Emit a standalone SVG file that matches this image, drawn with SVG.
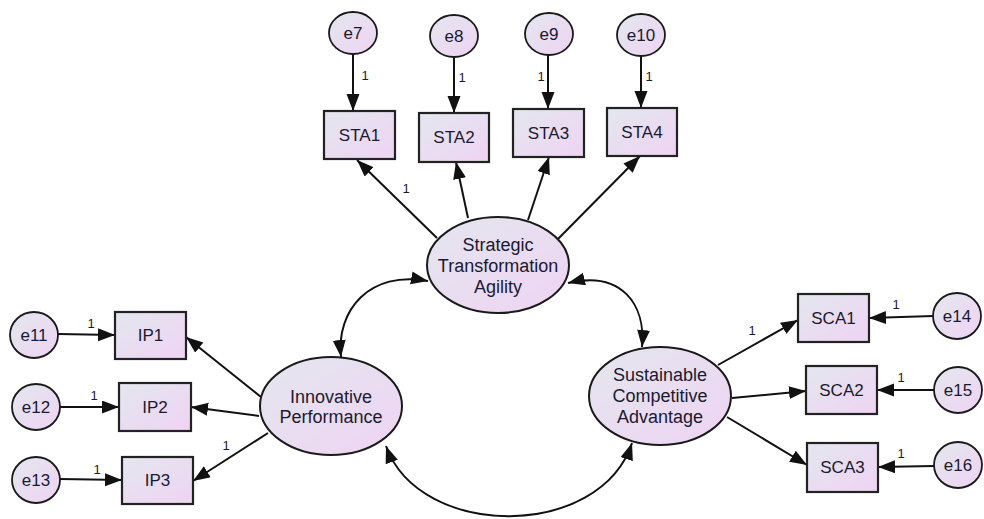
<svg xmlns="http://www.w3.org/2000/svg" width="984" height="519" viewBox="0 0 984 519">
  <defs>
    <linearGradient id="fillGrad" x1="0" y1="0" x2="1" y2="1">
      <stop offset="0" stop-color="#e3e7ee"/>
      <stop offset="1" stop-color="#efd3f3"/>
    </linearGradient>
    <marker id="arrow" markerUnits="userSpaceOnUse" markerWidth="18" markerHeight="14" refX="17" refY="6.5" orient="auto-start-reverse">
      <path d="M0,0 L17,6.5 L0,13 z" fill="#111"/>
    </marker>
  </defs>
  <style>
    .box { fill: url(#fillGrad); stroke: #222; stroke-width: 2.2; }
    .lat { fill: url(#fillGrad); stroke: #1a1a1a; stroke-width: 2; }
    .err { fill: url(#fillGrad); stroke: #1a1a1a; stroke-width: 1.8; }
    .t { font-family: "Liberation Sans", Arial, sans-serif; font-size: 17px; fill: #1a1a32; text-anchor: middle; dominant-baseline: central; }
    .tl { font-family: "Liberation Sans", Arial, sans-serif; font-size: 18px; fill: #1a1a32; text-anchor: middle; dominant-baseline: central; }
    .one { font-family: "Liberation Sans", Arial, sans-serif; font-size: 13px; fill: #1a1a32; text-anchor: middle; dominant-baseline: central; }
    .c { fill: none; stroke: #111; stroke-width: 2; }
    .ar { marker-end: url(#arrow); }
    .dbl { marker-start: url(#arrow); marker-end: url(#arrow); }
  </style>

  <!-- connectors -->
  <g id="connectors">
    <!-- error terms to STA indicators -->
    <line class="c ar" x1="353" y1="54" x2="353" y2="111"/>
    <line class="c ar" x1="454" y1="57" x2="454" y2="113"/>
    <line class="c ar" x1="548" y1="55" x2="548" y2="109"/>
    <line class="c ar" x1="641" y1="56" x2="641" y2="108"/>
    <!-- STA loadings -->
    <line class="c ar" x1="437" y1="238" x2="357" y2="160"/>
    <line class="c ar" x1="468" y1="218" x2="456" y2="162"/>
    <line class="c ar" x1="528" y1="220" x2="549" y2="157"/>
    <line class="c ar" x1="558" y1="239" x2="640" y2="156"/>
    <!-- IP loadings -->
    <line class="c ar" x1="261" y1="397" x2="186" y2="337"/>
    <line class="c ar" x1="259" y1="416" x2="191" y2="407"/>
    <line class="c ar" x1="268" y1="433" x2="193" y2="481"/>
    <!-- IP error terms -->
    <line class="c ar" x1="58" y1="334" x2="115" y2="335"/>
    <line class="c ar" x1="60" y1="407" x2="119" y2="407"/>
    <line class="c ar" x1="60" y1="479" x2="122" y2="480"/>
    <!-- SCA loadings -->
    <line class="c ar" x1="718" y1="365" x2="798" y2="320"/>
    <line class="c ar" x1="732" y1="398" x2="806" y2="391"/>
    <line class="c ar" x1="727" y1="417" x2="807" y2="465"/>
    <!-- SCA error terms -->
    <line class="c ar" x1="933" y1="316" x2="869" y2="318"/>
    <line class="c ar" x1="934" y1="390" x2="877" y2="390"/>
    <line class="c ar" x1="934" y1="466" x2="878" y2="467"/>
    <!-- covariances -->
    <path class="c dbl" d="M428,281 C370,270 336,310 341,357"/>
    <path class="c dbl" d="M568,283 C622,270 646,305 642,347"/>
    <path class="c dbl" d="M386,446 C420,540 600,540 632,443"/>
    <!-- fixed loading labels -->
    <text class="one" x="365" y="75">1</text>
    <text class="one" x="462" y="77">1</text>
    <text class="one" x="541" y="76">1</text>
    <text class="one" x="649" y="76">1</text>
    <text class="one" x="406" y="188">1</text>
    <text class="one" x="91" y="323">1</text>
    <text class="one" x="94" y="395">1</text>
    <text class="one" x="97" y="469">1</text>
    <text class="one" x="226" y="445">1</text>
    <text class="one" x="752" y="330">1</text>
    <text class="one" x="896" y="304">1</text>
    <text class="one" x="901" y="377">1</text>
    <text class="one" x="901" y="453">1</text>
  </g>

  <!-- error terms -->
  <g id="e7"><ellipse class="err" cx="353" cy="33" rx="24" ry="21"/><text class="t" x="353" y="33">e7</text></g>
  <g id="e8"><ellipse class="err" cx="454" cy="36" rx="24" ry="21"/><text class="t" x="454" y="36">e8</text></g>
  <g id="e9"><ellipse class="err" cx="549" cy="34" rx="24" ry="21"/><text class="t" x="549" y="34">e9</text></g>
  <g id="e10"><ellipse class="err" cx="641" cy="35" rx="24" ry="21"/><text class="t" x="641" y="35">e10</text></g>
  <g id="e11"><ellipse class="err" cx="34" cy="335" rx="24" ry="23"/><text class="t" x="34" y="335">e11</text></g>
  <g id="e12"><ellipse class="err" cx="36" cy="407" rx="24" ry="23"/><text class="t" x="36" y="407">e12</text></g>
  <g id="e13"><ellipse class="err" cx="36" cy="480" rx="24" ry="23"/><text class="t" x="36" y="480">e13</text></g>
  <g id="e14"><ellipse class="err" cx="957" cy="316" rx="24" ry="23"/><text class="t" x="957" y="316">e14</text></g>
  <g id="e15"><ellipse class="err" cx="958" cy="390" rx="24" ry="23"/><text class="t" x="958" y="390">e15</text></g>
  <g id="e16"><ellipse class="err" cx="958" cy="465" rx="24" ry="23"/><text class="t" x="958" y="465">e16</text></g>

  <!-- observed indicators -->
  <g id="STA1"><rect class="box" x="324" y="111" width="71" height="48"/><text class="t" x="359.5" y="135">STA1</text></g>
  <g id="STA2"><rect class="box" x="419" y="113" width="70" height="49"/><text class="t" x="454" y="137.5">STA2</text></g>
  <g id="STA3"><rect class="box" x="513" y="109" width="71" height="48"/><text class="t" x="548.5" y="133">STA3</text></g>
  <g id="STA4"><rect class="box" x="607" y="108" width="70" height="48"/><text class="t" x="642" y="132">STA4</text></g>
  <g id="IP1"><rect class="box" x="115" y="312" width="71" height="47"/><text class="t" x="150.5" y="335.5">IP1</text></g>
  <g id="IP2"><rect class="box" x="119" y="383" width="72" height="48"/><text class="t" x="155" y="407">IP2</text></g>
  <g id="IP3"><rect class="box" x="122" y="457" width="71" height="47"/><text class="t" x="157.5" y="480.5">IP3</text></g>
  <g id="SCA1"><rect class="box" x="798" y="294" width="71" height="48"/><text class="t" x="833.5" y="318">SCA1</text></g>
  <g id="SCA2"><rect class="box" x="806" y="366" width="71" height="48"/><text class="t" x="841.5" y="390">SCA2</text></g>
  <g id="SCA3"><rect class="box" x="807" y="443" width="71" height="49"/><text class="t" x="842.5" y="467.5">SCA3</text></g>

  <!-- latent constructs -->
  <g id="STA">
    <ellipse class="lat" cx="498" cy="265" rx="71" ry="48"/>
    <text class="tl" x="498" y="245">Strategic</text>
    <text class="tl" x="498" y="266">Transformation</text>
    <text class="tl" x="498" y="287">Agility</text>
  </g>
  <g id="IP">
    <ellipse class="lat" cx="331" cy="406" rx="71" ry="49"/>
    <text class="tl" x="331" y="397">Innovative</text>
    <text class="tl" x="331" y="417">Performance</text>
  </g>
  <g id="SCA">
    <ellipse class="lat" cx="660" cy="396" rx="71" ry="49"/>
    <text class="tl" x="660" y="375">Sustainable</text>
    <text class="tl" x="660" y="396">Competitive</text>
    <text class="tl" x="660" y="417">Advantage</text>
  </g>
</svg>
